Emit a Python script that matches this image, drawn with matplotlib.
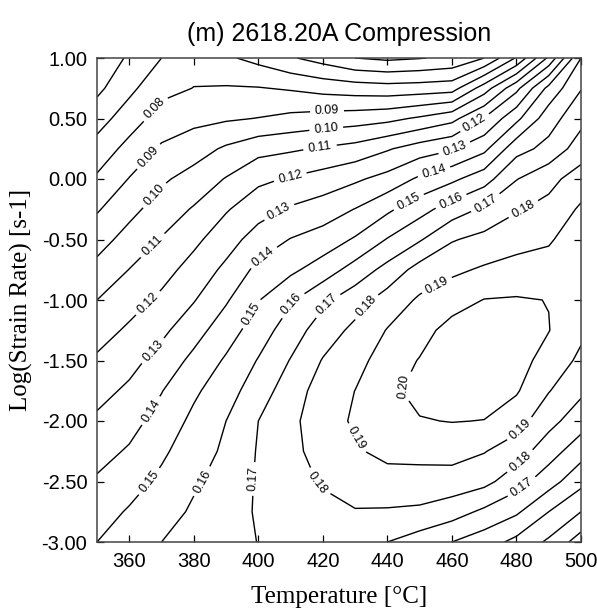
import numpy as np
import matplotlib
matplotlib.use("Agg")
import matplotlib.pyplot as plt

# axes of the contour grid
temps = [350, 360, 370, 380, 390, 400, 410, 420, 430, 440, 450, 460, 470, 480, 490, 500]
log_rates = [1.0, 0.75, 0.5, 0.25, 0.0, -0.25, -0.5, -0.75, -1.0,
             -1.25, -1.5, -1.75, -2.0, -2.25, -2.5, -2.75, -3.0]

# values, one list per temperature (top to bottom in log rate)
t350 = [0.050, 0.0576, 0.0658, 0.0738, 0.0815, 0.0890, 0.0960, 0.1030, 0.1100, 0.1158, 0.1215, 0.1267, 0.1317, 0.1365, 0.1412, 0.1457, 0.1500]
t360 = [0.062, 0.0676, 0.0751, 0.0833, 0.0904, 0.0971, 0.1037, 0.1102, 0.1160, 0.1216, 0.1268, 0.1318, 0.1365, 0.1411, 0.1460, 0.1510, 0.1546]
t370 = [0.070, 0.0770, 0.0843, 0.0914, 0.0984, 0.1046, 0.1106, 0.1163, 0.1220, 0.1278, 0.1338, 0.1396, 0.1439, 0.1482, 0.1522, 0.1562, 0.1600]
t380 = [0.0765, 0.0802, 0.0873, 0.0956, 0.1038, 0.1109, 0.1177, 0.1238, 0.1294, 0.1361, 0.1425, 0.1483, 0.1523, 0.1555, 0.1588, 0.1613, 0.1633]
t390 = [0.0715, 0.0808, 0.0888, 0.1015, 0.1106, 0.1191, 0.1257, 0.1322, 0.1389, 0.1453, 0.1513, 0.1557, 0.1600, 0.1617, 0.1633, 0.1650, 0.1666]
t400 = [0.067, 0.0805, 0.0903, 0.1067, 0.1179, 0.1260, 0.1344, 0.1427, 0.1495, 0.1551, 0.1606, 0.1654, 0.1700, 0.1708, 0.1712, 0.1712, 0.1702]
t410 = [0.061, 0.0790, 0.0926, 0.1086, 0.1210, 0.1312, 0.1404, 0.1479, 0.1588, 0.1651, 0.1705, 0.1750, 0.1775, 0.1770, 0.1760, 0.1750, 0.1740]
t420 = [0.056, 0.0765, 0.0943, 0.1110, 0.1243, 0.1348, 0.1443, 0.1548, 0.1679, 0.1749, 0.1806, 0.1845, 0.1860, 0.1845, 0.1810, 0.1770, 0.1750]
t430 = [0.050, 0.0750, 0.0954, 0.1136, 0.1284, 0.1403, 0.1511, 0.1640, 0.1756, 0.1824, 0.1864, 0.1901, 0.1912, 0.1888, 0.1840, 0.1795, 0.1740]
t440 = [0.048, 0.0740, 0.0973, 0.1190, 0.1335, 0.1481, 0.1606, 0.1733, 0.1843, 0.1905, 0.1950, 0.1980, 0.1970, 0.1928, 0.1860, 0.1791, 0.1700]
t450 = [0.0495, 0.0747, 0.1015, 0.1248, 0.1418, 0.1563, 0.1690, 0.1839, 0.1914, 0.1964, 0.2005, 0.2025, 0.1995, 0.1930, 0.1863, 0.1782, 0.1652]
t460 = [0.052, 0.0759, 0.1069, 0.1290, 0.1479, 0.1648, 0.1792, 0.1880, 0.1959, 0.2035, 0.2058, 0.2045, 0.2003, 0.1937, 0.1857, 0.1744, 0.1600]
t470 = [0.060, 0.0950, 0.1207, 0.1375, 0.1559, 0.1717, 0.1830, 0.1913, 0.2003, 0.2045, 0.2065, 0.2040, 0.1998, 0.1905, 0.1829, 0.1680, 0.1546]
t480 = [0.081, 0.1173, 0.1375, 0.1565, 0.1696, 0.1791, 0.1863, 0.1937, 0.2008, 0.2045, 0.2040, 0.2010, 0.1943, 0.1846, 0.1743, 0.1616, 0.1473]
t490 = [0.112, 0.1430, 0.1557, 0.1630, 0.1771, 0.1829, 0.1893, 0.1925, 0.1998, 0.2003, 0.1960, 0.1905, 0.1831, 0.1746, 0.1642, 0.1500, 0.1383]
t500 = [0.150, 0.1595, 0.1670, 0.1750, 0.1846, 0.1915, 0.1935, 0.1950, 0.1945, 0.1920, 0.1880, 0.1818, 0.1746, 0.1640, 0.1530, 0.1400, 0.1250]

levels = [0.05, 0.06, 0.07, 0.08, 0.09, 0.10, 0.11, 0.12, 0.13, 0.14,
          0.15, 0.16, 0.17, 0.18, 0.19, 0.20]

# where the inline labels sit (temperature, log rate)
label_spots = [
    (367.4, 0.595),
    (365.8, 0.19), (421.3, 0.554),
    (367.7, -0.132), (421.0, 0.43),
    (367.4, -0.554), (419.1, 0.264),
    (365.8, -1.025), (409.8, 0.025), (467.1, 0.463),
    (367.4, -1.421), (406.1, -0.256), (461.0, 0.24),
    (367.4, -1.926), (401.1, -0.628), (454.1, 0.091),
    (366.4, -2.504), (397.4, -1.107), (446.1, -0.165),
    (382.9, -2.504), (409.8, -1.025), (459.1, -0.149),
    (398.7, -2.479), (420.7, -1.025), (470.6, -0.207), (482.6, -2.579),
    (417.6, -2.529), (432.1, -1.025), (482.0, -0.24), (481.1, -2.331),
    (454.8, -0.851), (429.6, -2.157), (482.0, -2.091),
    (445.8, -1.727),
]

Z = np.column_stack([t350, t360, t370, t380, t390, t400, t410, t420,
                     t430, t440, t450, t460, t470, t480, t490, t500])
X, Y = np.meshgrid(temps, log_rates)

fig = plt.figure(figsize=(5.97, 6.11), dpi=100)
ax = fig.add_axes([97 / 597, 1 - 542 / 611, 484 / 597, 484 / 611])

cs = ax.contour(X, Y, Z, levels=levels, colors='black', linewidths=1.0)
labels = ax.clabel(cs, cs.levels, manual=label_spots, inline=True,
                   inline_spacing=3, fmt='%.2f', fontsize=9)
for txt in labels:
    txt.set_family('Liberation Sans')

ax.set_xlim(350, 500)
ax.set_ylim(-3, 1)
ax.set_xticks([360, 380, 400, 420, 440, 460, 480, 500])
ax.set_yticks(np.arange(-3, 1.01, 0.5))
ax.set_yticklabels(['%.2f' % v for v in np.arange(-3, 1.01, 0.5)])
ax.tick_params(direction='in', length=5, width=0.9, top=True, right=True,
               labelsize=14.5, pad=7)
for lab in ax.get_xticklabels() + ax.get_yticklabels():
    lab.set_family('Liberation Sans')
for sp in ax.spines.values():
    sp.set_linewidth(1.1)
    sp.set_color('#444444')

ax.set_title('(m) 2618.20A Compression', family='Liberation Sans',
             fontsize=18, pad=12)
ax.set_xlabel('Temperature [°C]', family='Liberation Serif', fontsize=18,
              labelpad=11)
ax.set_ylabel('Log(Strain Rate) [s-1]', family='Liberation Serif',
              fontsize=18, labelpad=6)

fig.savefig('out.png', dpi=100)
